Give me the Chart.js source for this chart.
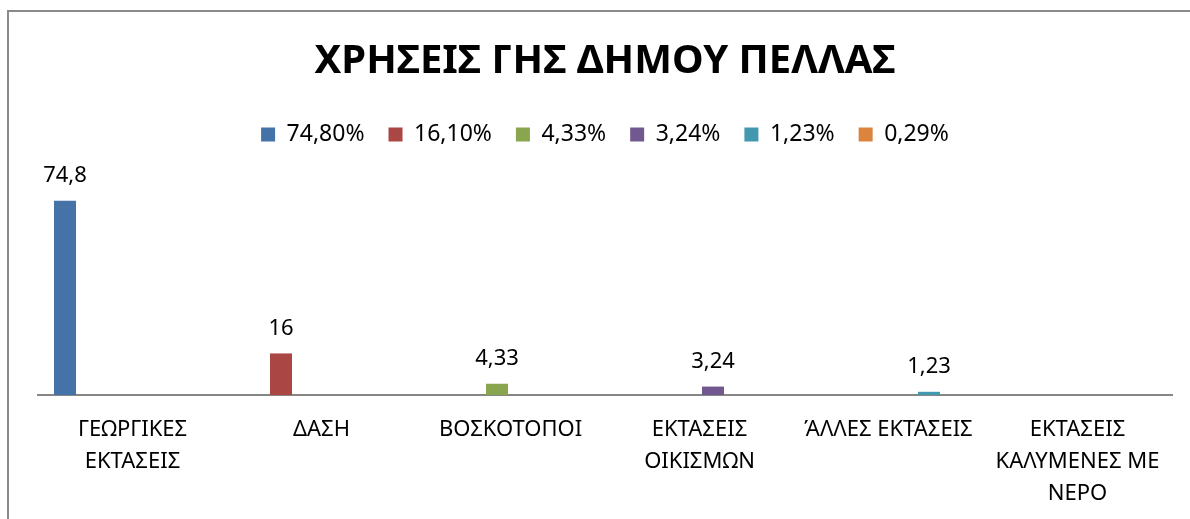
<!DOCTYPE html>
<html>
<head>
<meta charset="utf-8">
<title>ΧΡΗΣΕΙΣ ΓΗΣ ΔΗΜΟΥ ΠΕΛΛΑΣ</title>
<script src="https://cdn.jsdelivr.net/npm/chart.js@4"></script>
<style>
  html, body { margin: 0; padding: 0; background: #fff; overflow: hidden; }
  #frame {
    position: absolute; left: 7px; top: 10px; width: 1300px; height: 600px;
    border-left: 2px solid #8a8a8a; border-top: 2px solid #8a8a8a;
  }
  #wrap { position: absolute; left: 0; top: 0; width: 1190px; height: 519px; }
</style>
</head>
<body>
<div id="frame"></div>
<div id="wrap"><canvas id="chart" width="1190" height="519"></canvas></div>
<script>
const titleText = "ΧΡΗΣΕΙΣ ΓΗΣ ΔΗΜΟΥ ΠΕΛΛΑΣ";

const categories = [
  ["ΓΕΩΡΓΙΚΕΣ", "ΕΚΤΑΣΕΙΣ"],
  "ΔΑΣΗ",
  "ΒΟΣΚΟΤΟΠΟΙ",
  ["ΕΚΤΑΣΕΙΣ", "ΟΙΚΙΣΜΩΝ"],
  "ΆΛΛΕΣ ΕΚΤΑΣΕΙΣ",
  ["ΕΚΤΑΣΕΙΣ", "ΚΑΛΥΜΕΝΕΣ ΜΕ", "ΝΕΡΟ"]
];

// one series per category, named after its share
const seriesNames = ["74,80%", "16,10%", "4,33%", "3,24%", "1,23%", "0,29%"];
const values = [74.8, 16, 4.33, 3.24, 1.23, null];
const colors = ["#4572A7", "#AA4643", "#89A54E", "#71588F", "#4198AF", "#DB843D"];

const FONT = "'Noto Sans', 'DejaVu Sans', sans-serif";

function fmt(v){
  return String(v).replace(".", ",");
}

const datasets = seriesNames.map((name, i) => ({
  label: name,
  data: categories.map((c, j) => (j === i ? values[i] : null)),
  backgroundColor: colors[i],
  borderWidth: 0,
  categoryPercentage: 0.857,
  barPercentage: 0.815
}));

const valueLabels = {
  id: "valueLabels",
  afterDatasetsDraw(chart){
    const ctx = chart.ctx;
    ctx.save();
    ctx.font = "22px " + FONT;
    ctx.fillStyle = "#000";
    ctx.textAlign = "center";
    ctx.textBaseline = "middle";
    chart.data.datasets.forEach((ds, i) => {
      const meta = chart.getDatasetMeta(i);
      meta.data.forEach((bar, j) => {
        const v = ds.data[j];
        if(v == null) return;
        ctx.fillText(fmt(v), bar.x, bar.y - 25);
      });
    });
    ctx.restore();
  }
};

new Chart(document.getElementById("chart"), {
  type: "bar",
  data: { labels: categories, datasets: datasets },
  plugins: [valueLabels],
  options: {
    responsive: false,
    animation: false,
    layout: { padding: { left: 38, right: 18, top: 10, bottom: 0 } },
    plugins: {
      title: {
        display: true,
        text: titleText,
        color: "#000",
        font: { family: FONT, size: 40, weight: "bold" },
        padding: { top: 28, bottom: 13 }
      },
      legend: {
        display: true,
        position: "top",
        labels: {
          color: "#000",
          font: { family: FONT, size: 23 },
          boxWidth: 14,
          boxHeight: 14,
          padding: 24
        }
      },
      tooltip: { enabled: false }
    },
    scales: {
      x: {
        grid: { display: false, drawTicks: false },
        border: { display: true, color: "#868686", width: 2 },
        ticks: {
          color: "#000",
          font: { family: FONT, size: 22, lineHeight: "32px" },
          padding: 19,
          maxRotation: 0,
          autoSkip: false
        },
        afterFit(scale){ scale.height = 124; }
      },
      y: {
        display: false,
        min: 0,
        max: 92
      }
    }
  }
});
</script>
</body>
</html>
